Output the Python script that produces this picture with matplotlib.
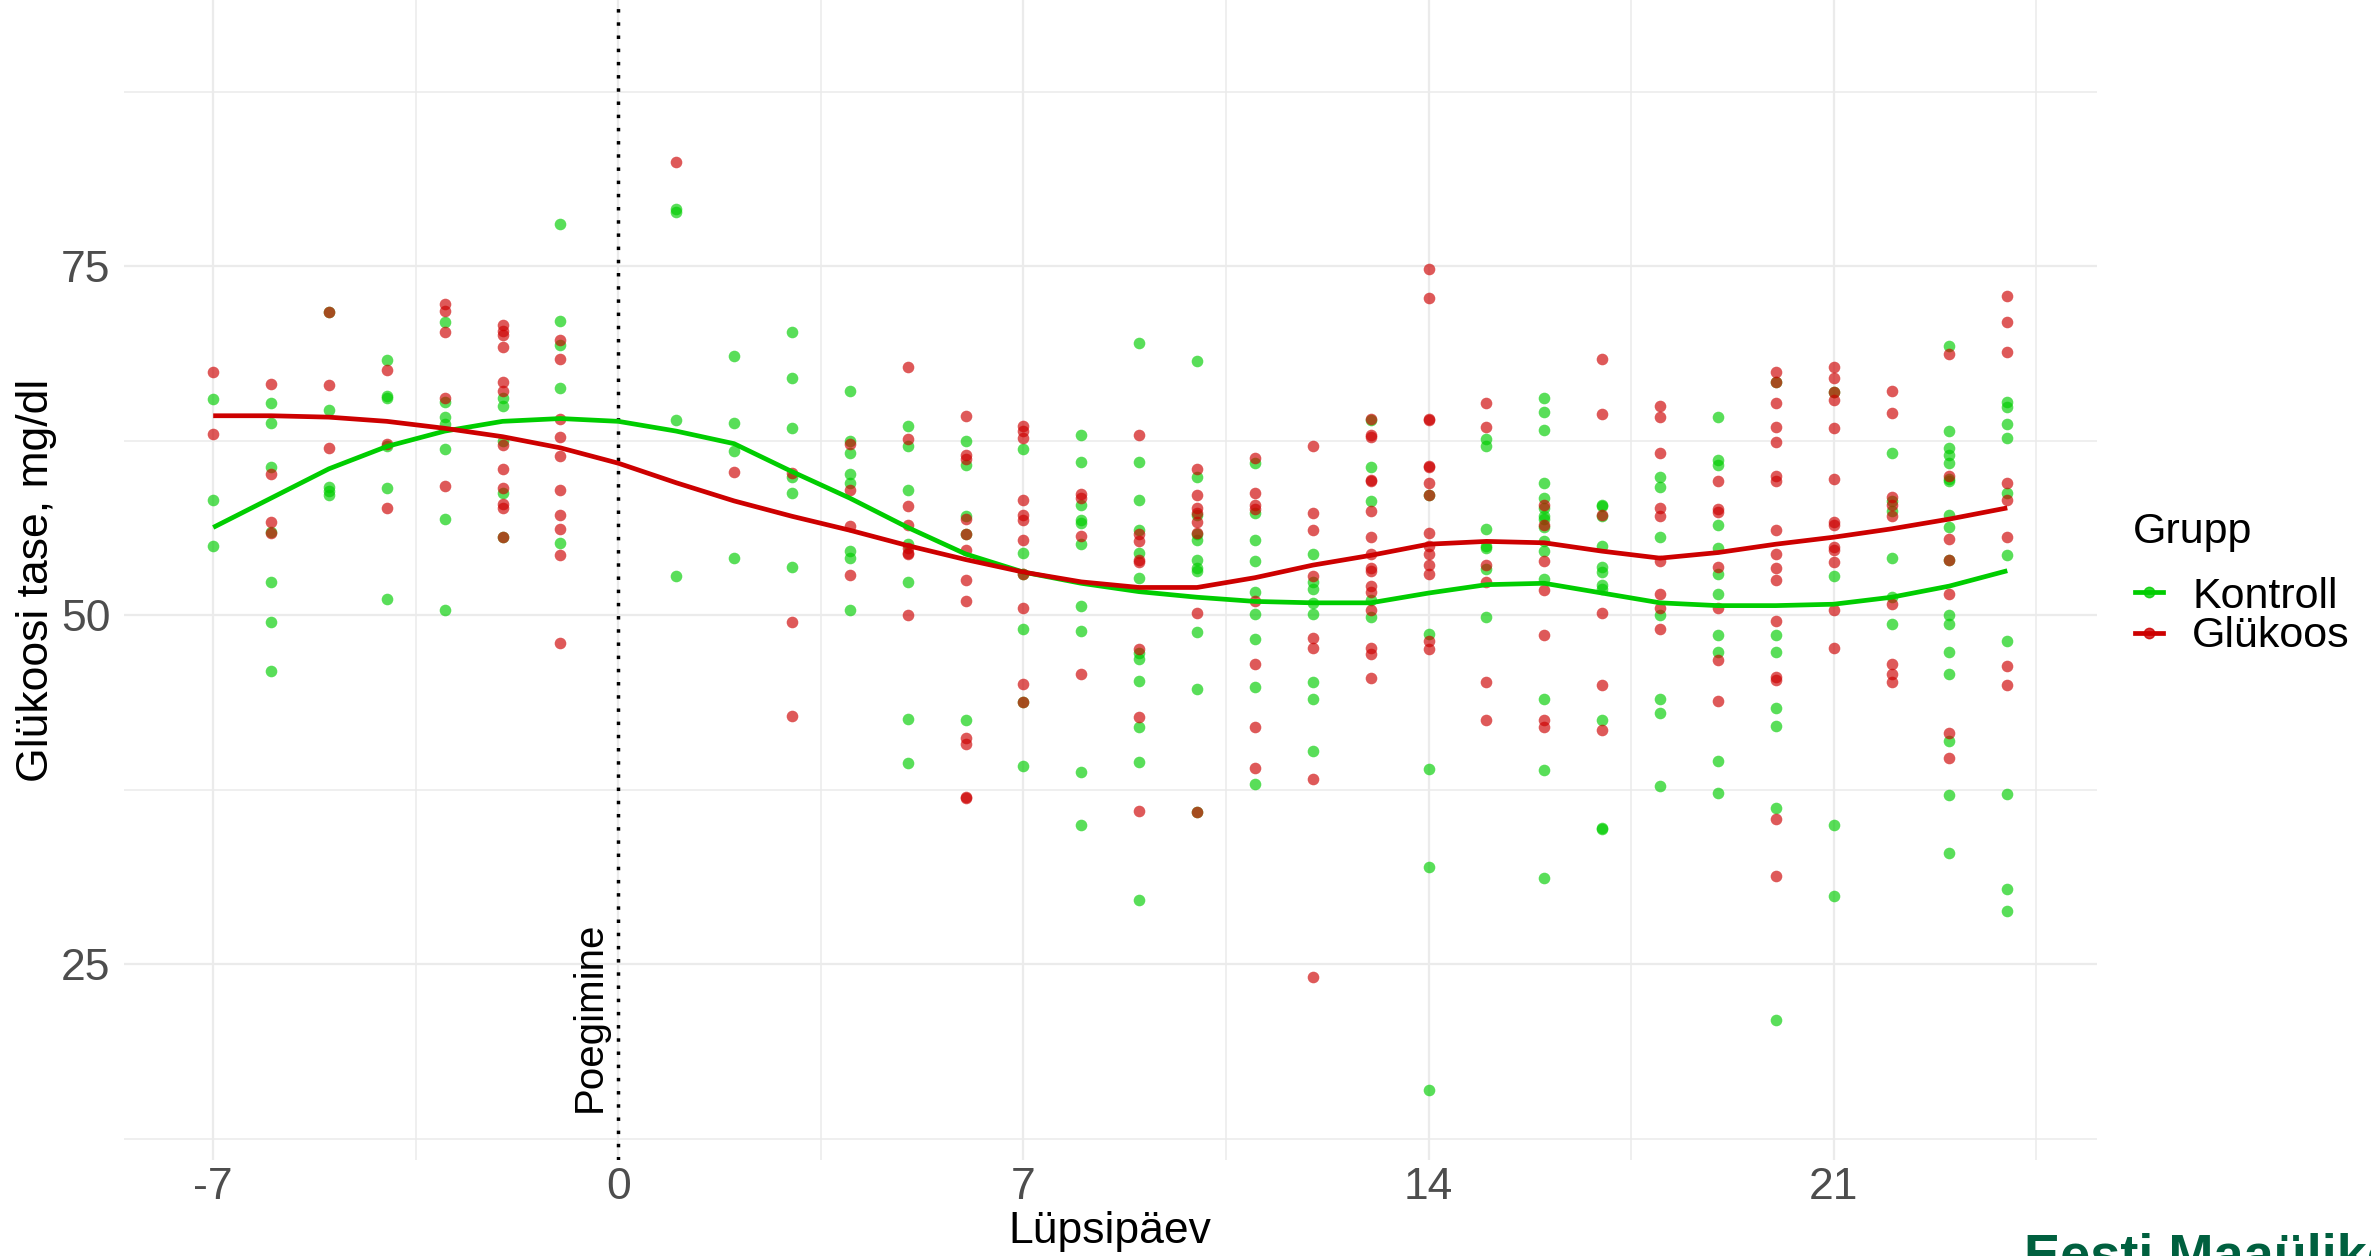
import matplotlib
matplotlib.use("Agg")
import matplotlib.pyplot as plt
from matplotlib.lines import Line2D
from matplotlib.ticker import FixedLocator

# Lüpsipäevad (päev poegimise suhtes)
days = list(range(-7, 25))

# Kontrollrühma mõõtmised, iga päeva kohta üks list (mg/dl)
kontroll = [
    [65.5, 58.3, 55.0],                                         # -7
    [65.2, 63.8, 60.6, 56.0, 52.4, 49.5, 46.0],                 # -6
    [71.7, 64.7, 59.2, 58.9, 58.6],                             # -5
    [68.3, 65.7, 65.6, 62.1, 59.1, 51.2],                       # -4
    [71.0, 65.3, 64.2, 63.7, 61.9, 56.9, 50.4],                 # -3
    [65.6, 65.0, 62.5, 58.8, 55.6],                             # -2
    [78.0, 71.1, 69.4, 66.3, 55.2],                             # -1
    [],                                                         # 0
    [79.1, 78.9, 64.0, 52.8],                                   # 1
    [68.6, 63.8, 61.8, 54.1],                                   # 2
    [70.3, 67.0, 63.4, 59.9, 58.8, 53.5],                       # 3
    [66.1, 62.5, 61.6, 60.1, 59.5, 54.6, 54.1, 50.4],           # 4
    [63.6, 62.1, 59.0, 55.1, 52.4, 42.6, 39.4],                 # 5
    [62.5, 60.8, 57.1, 55.8, 42.5],                             # 6
    [61.9, 54.5, 53.0, 49.0, 43.8, 39.2],                       # 7
    [62.9, 61.0, 57.9, 56.8, 56.6, 55.1, 50.7, 48.9, 38.8, 35.0],   # 8
    [69.5, 61.0, 58.3, 56.1, 54.5, 52.7, 47.3, 46.9, 45.3, 42.0, 39.5, 29.6],  # 9
    [68.2, 59.9, 57.2, 55.8, 55.4, 54.0, 53.4, 53.2, 48.8, 44.7, 35.9],  # 10
    [60.9, 57.3, 55.4, 53.9, 51.7, 50.1, 48.3, 44.9, 37.9],     # 11
    [54.4, 52.4, 51.9, 50.9, 50.1, 45.2, 44.0, 40.3],           # 12
    [64.0, 60.6, 58.2, 51.1, 49.9],                             # 13
    [58.6, 48.7, 39.0, 32.0, 16.0],                             # 14
    [62.6, 62.1, 56.2, 55.0, 54.8, 53.3, 49.9],                 # 15
    [65.6, 64.6, 63.3, 59.5, 58.4, 57.7, 57.1, 56.9, 56.3, 55.3, 54.6, 52.6, 44.0, 38.9, 31.2],  # 16
    [57.9, 57.8, 57.1, 55.0, 53.5, 53.1, 52.2, 51.9, 42.5, 34.8, 34.7],  # 17
    [59.9, 59.2, 55.6, 50.0, 44.0, 43.0, 37.8],                 # 18
    [64.2, 61.1, 60.8, 56.5, 54.8, 53.0, 51.5, 48.6, 47.4, 39.6, 37.3],  # 19
    [66.7, 48.6, 47.4, 43.4, 42.1, 36.2, 21.0],                 # 20
    [66.0, 52.8, 35.0, 29.9],                                   # 21
    [61.6, 58.2, 57.5, 54.1, 51.3, 49.4],                       # 22
    [69.3, 63.2, 62.0, 61.5, 60.9, 59.8, 59.6, 57.2, 56.3, 54.0, 50.0, 49.4, 47.4, 45.8, 41.0, 37.1, 33.0],  # 23
    [65.3, 64.9, 63.7, 62.7, 58.8, 54.3, 48.2, 37.2, 30.4, 28.8],  # 24
]

# Glükoosirühma mõõtmised
glukoos = [
    [67.4, 63.0],                                               # -7
    [66.6, 60.1, 56.7, 55.9],                                   # -6
    [71.7, 66.5, 62.0],                                         # -5
    [67.6, 62.3, 57.7],                                         # -4
    [72.3, 71.8, 70.3, 65.6, 59.3],                             # -3
    [70.8, 70.4, 70.1, 69.2, 66.7, 66.1, 62.2, 60.5, 59.1, 58.0, 57.7, 55.6],  # -2
    [69.7, 68.4, 64.1, 62.8, 61.4, 59.0, 57.2, 56.2, 54.3, 48.0],  # -1
    [],                                                         # 0
    [82.5],                                                     # 1
    [60.3],                                                     # 2
    [60.2, 49.5, 42.8],                                         # 3
    [62.3, 59.0, 56.4, 52.9],                                   # 4
    [67.8, 62.6, 57.8, 56.5, 54.8, 54.5, 54.4, 50.0],           # 5
    [64.3, 61.5, 61.2, 56.9, 55.8, 54.7, 52.5, 51.0, 41.2, 40.8, 37.0, 36.9],  # 6
    [63.6, 63.2, 62.7, 58.3, 57.2, 56.8, 55.4, 53.0, 50.5, 45.1, 43.8],  # 7
    [58.7, 58.4, 55.7, 45.8],                                   # 8
    [62.9, 55.8, 55.3, 54.0, 53.8, 47.6, 42.7, 36.0],           # 9
    [60.5, 58.6, 57.7, 57.3, 56.7, 55.9, 50.2, 35.9],           # 10
    [61.3, 58.8, 57.9, 57.6, 51.0, 46.5, 42.0, 39.1],           # 11
    [62.1, 57.3, 56.1, 52.8, 48.4, 47.7, 38.3, 24.1],           # 12
    [64.1, 62.9, 62.8, 59.7, 59.6, 57.5, 55.6, 54.4, 53.4, 53.2, 52.1, 51.7, 50.4, 47.7, 47.2, 45.5],  # 13
    [74.8, 72.7, 64.1, 64.0, 60.7, 60.6, 59.5, 58.6, 55.9, 55.0, 54.4, 53.6, 53.0, 48.2, 47.6],  # 14
    [65.2, 63.5, 53.6, 52.4, 45.2, 42.5],                       # 15
    [57.9, 56.5, 53.9, 51.8, 48.6, 42.5, 42.0],                 # 16
    [68.4, 64.4, 57.2, 50.2, 45.0, 41.8],                       # 17
    [65.0, 64.2, 61.6, 57.7, 57.1, 53.9, 51.5, 50.5, 49.0],     # 18
    [59.6, 57.6, 57.4, 53.5, 50.5, 46.8, 43.9],                 # 19
    [67.4, 66.7, 65.2, 63.5, 62.4, 60.0, 59.6, 56.1, 54.4, 53.4, 52.5, 49.6, 45.6, 45.4, 35.4, 31.3],  # 20
    [67.8, 67.0, 66.0, 65.4, 63.4, 59.8, 56.7, 56.5, 54.9, 54.7, 53.8, 50.4, 47.7],  # 21
    [66.1, 64.5, 58.5, 57.9, 57.1, 50.8, 46.5, 45.8, 45.2],     # 22
    [68.7, 60.0, 55.5, 54.0, 51.5, 41.6, 39.8],                 # 23
    [72.9, 71.0, 68.9, 59.5, 58.3, 55.6, 46.4, 45.0],           # 24
]

# Silutud kõverad (loess), loetud pildilt iga päeva kohta
kontroll_smooth = [56.3, 58.4, 60.5, 62.1, 63.2, 63.9, 64.1, 63.9, 63.2, 62.3, 60.3,
                   58.4, 56.3, 54.4, 53.1, 52.3, 51.7, 51.3, 51.0, 50.9, 50.9, 51.6,
                   52.2, 52.3, 51.6, 50.9, 50.7, 50.7, 50.8, 51.3, 52.1, 53.2]
glukoos_smooth = [64.3, 64.3, 64.2, 63.9, 63.4, 62.8, 62.0, 60.9, 59.5, 58.2, 57.1,
                  56.1, 55.0, 54.0, 53.1, 52.4, 52.0, 52.0, 52.7, 53.6, 54.3, 55.1,
                  55.3, 55.2, 54.6, 54.1, 54.5, 55.1, 55.6, 56.2, 56.9, 57.7]

group_names = ["Kontroll", "Glükoos"]
group_colors = ["#00CD00", "#CD0000"]

x_ticks = [-7, 0, 7, 14, 21]
y_ticks = [25, 50, 75]

plt.rcParams['font.family'] = ['Liberation Sans', 'DejaVu Sans']
plt.rcParams['axes.unicode_minus'] = False


def flatten(values):
    xs, ys = [], []
    for d, vals in zip(days, values):
        for v in vals:
            xs.append(d)
            ys.append(v)
    return xs, ys


fig = plt.figure(figsize=(23.71, 12.56), dpi=100)
ax = fig.add_axes([123.5 / 2371, 1 - 1160 / 1256, (2097 - 123.5) / 2371, 1160 / 1256])

# Punktid
for values, color in zip([kontroll, glukoos], group_colors):
    xs, ys = flatten(values)
    ax.scatter(xs, ys, s=70, color=color, alpha=0.65, linewidths=0, zorder=3)

# Silutud jooned
for smooth, color in zip([kontroll_smooth, glukoos_smooth], group_colors):
    ax.plot(days, smooth, color=color, lw=3.4, zorder=4, solid_capstyle='butt',
            solid_joinstyle='round')

# Poegimise joon
ax.axvline(0, color='black', lw=2.5, linestyle=(0, (1, 2.8)), zorder=2)
ax.text(-0.5, 14.4, "Poegimine", rotation=90, ha='center', va='bottom', fontsize=29)

ax.set_xlim(-8.55, 25.55)
ax.set_ylim(10.99, 94.08)
ax.set_xticks(x_ticks)
ax.set_yticks(y_ticks)
ax.xaxis.set_minor_locator(FixedLocator([-3.5, 3.5, 10.5, 17.5, 24.5]))
ax.yaxis.set_minor_locator(FixedLocator([12.5, 37.5, 62.5, 87.5]))
ax.grid(which='major', color='#EBEBEB', lw=1.6)
ax.grid(which='minor', color='#EBEBEB', lw=1.1)
ax.set_axisbelow(True)
for s in ax.spines.values():
    s.set_visible(False)
ax.tick_params(which='both', length=0)
ax.tick_params(axis='x', labelsize=32, labelcolor='#4D4D4D', pad=5)
ax.tick_params(axis='y', labelsize=32, labelcolor='#4D4D4D', pad=9.5)

ax.set_xlabel("Lüpsipäev", fontsize=32, labelpad=2)
ax.set_ylabel("Glükoosi tase, mg/dl", fontsize=32, labelpad=3)

# Legend
fig.text(2133 / 2371, 1 - 543 / 1256, "Grupp", fontsize=31, va='baseline')
for i, (name, color) in enumerate(zip(group_names, group_colors)):
    ky = 1 - (592 + 41 * i) / 1256
    fig.add_artist(Line2D([2135 / 2371, 2163 / 2371], [ky, ky], color=color, lw=3.4,
                          transform=fig.transFigure))
    fig.add_artist(Line2D([2149 / 2371], [ky], color=color, marker='o', markersize=7.5,
                          alpha=0.8, transform=fig.transFigure))
    fig.text(2192 / 2371, 1 - (608 + 39 * i) / 1256, name, fontsize=31, va='baseline')

# Logo tekst (osaliselt pildist väljas, nagu originaalis)
fig.text(2024 / 2371, 1 - 1271 / 1256, "Eesti Maaülikool", fontsize=39,
         fontweight='bold', color='#00603F', va='baseline')

fig.savefig("out.png", dpi=100)
